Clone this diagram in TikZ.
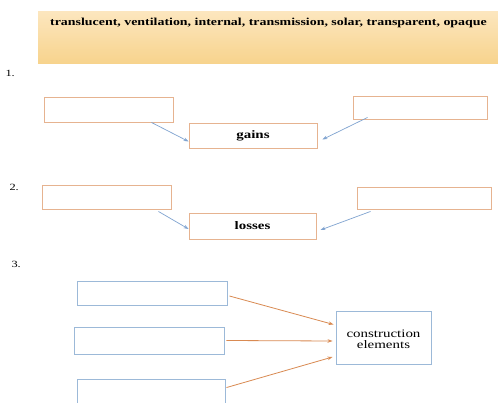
\documentclass[tikz,border=0pt]{standalone}
\usepackage{fontspec}
\setmainfont{Liberation Serif}
\newfontfamily\widefont[FakeStretch=1.3]{Liberation Serif}
\usetikzlibrary{arrows.meta}
\definecolor{tanline}{HTML}{E6B390}
\definecolor{bluearrow}{HTML}{7FA3D0}
\definecolor{bluebox}{HTML}{9CB9D8}
\definecolor{orangearrow}{HTML}{D98A52}
\definecolor{bantop}{HTML}{FCE6BE}
\definecolor{banbot}{HTML}{F7D38C}
\tikzset{
  tanbox/.style={draw=tanline, line width=0.9pt, inner sep=0pt},
  bluebx/.style={draw=bluebox, line width=0.9pt, inner sep=0pt},
  barrow/.style={draw=bluearrow, line width=0.7pt, -{Stealth[length=5pt,width=3.5pt]}},
  oarrow/.style={draw=orangearrow, line width=0.8pt, -{Stealth[length=5pt,width=3.5pt]}},
  boldlbl/.style={font=\widefont\bfseries\fontsize{11.5}{13}\selectfont},
  lbl/.style={font=\widefont\fontsize{11.5}{12.5}\selectfont},
  num/.style={font=\widefont\fontsize{9.5}{11}\selectfont, anchor=west}
}
\begin{document}
\begin{tikzpicture}[x=1pt,y=-1pt]
\useasboundingbox (0,0) rectangle (498,403);
\clip (0,0) rectangle (498,403);
\fill[white] (0,0) rectangle (498,403);
% banner
\node[inner sep=0pt, minimum width=460pt, minimum height=52pt, top color=bantop, bottom color=banbot, draw=none] (banner) at (268,38) {};
\node[font=\widefont\bfseries\fontsize{10.7}{12}\selectfont] (words) at (268.5,23) {translucent, ventilation, internal, transmission, solar, transparent, opaque};
% section 1
\node[num] (n1) at (2,73) {1.};
\node[tanbox, minimum width=129pt, minimum height=25pt] (g1l) at (108.5,109.5) {};
\node[tanbox, minimum width=134pt, minimum height=23pt] (g1r) at (420,107.5) {};
\node[tanbox, minimum width=128pt, minimum height=25pt, boldlbl] (gains) at (253,135.5) {gains};
\draw[barrow] ([xshift=-22pt]g1l.south east) -- ([yshift=-6pt]gains.west);
\draw[barrow] ([xshift=15pt, yshift=2pt]g1r.south west) -- ([xshift=5pt, yshift=-4pt]gains.east);
% section 2
\node[num] (n2) at (6,187) {2.};
\node[tanbox, minimum width=129pt, minimum height=24pt] (g2l) at (106.5,197) {};
\node[tanbox, minimum width=134pt, minimum height=22pt] (g2r) at (424,198) {};
\node[tanbox, minimum width=127pt, minimum height=26pt, boldlbl] (losses) at (252.5,226) {losses};
\draw[barrow] ([xshift=-13pt, yshift=-2pt]g2l.south east) -- ([yshift=-3pt]losses.west);
\draw[barrow] ([xshift=14pt, yshift=-2pt]g2r.south west) -- ([xshift=4pt, yshift=-4pt]losses.east);
% section 3
\node[num] (n3) at (8,264) {3.};
\node[bluebx, minimum width=150pt, minimum height=24pt] (c1) at (152,293) {};
\node[bluebx, minimum width=150pt, minimum height=27pt] (c2) at (149,340.5) {};
\node[bluebx, minimum width=148pt, minimum height=30pt] (c3) at (151,394) {};
\node[bluebx, minimum width=95pt, minimum height=53pt, lbl] (ce) at (383.5,337.5) {\raisebox{-6pt}[0pt][0pt]{\begin{tabular}{@{}c@{}}construction\\[-1pt]elements\end{tabular}}};
\draw[oarrow] ([xshift=2pt, yshift=-3pt]c1.east) -- ([xshift=-2pt, yshift=13pt]ce.west);
\draw[oarrow] ([xshift=2pt]c2.east) -- ([xshift=-3pt, yshift=-3.5pt]ce.west);
\draw[oarrow] ([xshift=1pt, yshift=-9pt]c3.north east) -- ([xshift=-3pt, yshift=-19.5pt]ce.west);
\end{tikzpicture}
\end{document}
